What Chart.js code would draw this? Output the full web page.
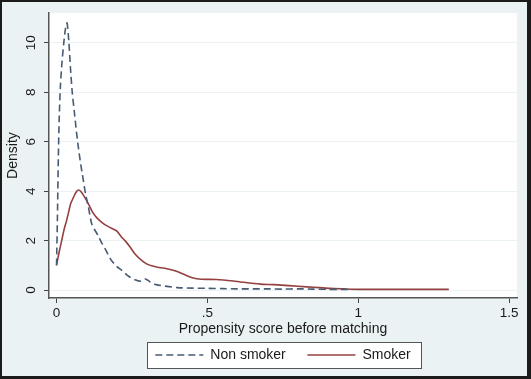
<!DOCTYPE html>
<html>
<head>
<meta charset="utf-8">
<script src="https://cdn.jsdelivr.net/npm/chart.js@4.4.1/dist/chart.umd.min.js"></script>
<style>
  html, body { margin: 0; padding: 0; background: #eaf2f3; }
  #wrap { width: 531px; height: 379px; position: relative; }
</style>
</head>
<body>
<div id="wrap"><canvas id="grafico"></canvas></div>
<script>
// dados (densidade kernel do escore de propensão)
const nonSmokerX = [0, 0.003, 0.006, 0.009, 0.013, 0.018, 0.024, 0.03, 0.035, 0.041, 0.046, 0.052, 0.059, 0.066,
    0.072, 0.08, 0.088, 0.096, 0.105, 0.116, 0.126, 0.138, 0.15, 0.16, 0.17, 0.182, 0.2, 0.216, 0.24, 0.26,
    0.28, 0.295, 0.31, 0.33, 0.36, 0.4, 0.45, 0.5, 0.55, 0.6, 0.65, 0.7, 0.75, 0.8, 0.85, 0.9, 0.95, 0.98];
const nonSmokerY = [1.0, 3.0, 5.4, 7.0, 8.3, 9.2, 10.0, 10.6, 10.8, 10.0, 9.0, 8.0, 7.2, 6.4,
    5.8, 5.1, 4.5, 3.9, 3.4, 2.7, 2.45, 2.2, 1.9, 1.7, 1.45, 1.2, 0.95, 0.8, 0.55, 0.42,
    0.36, 0.45, 0.33, 0.22, 0.16, 0.1, 0.08, 0.07, 0.06, 0.05, 0.05, 0.05, 0.04, 0.05, 0.04, 0.03, 0.03, 0.02];

const smokerX = [0, 0.008, 0.017, 0.025, 0.033, 0.04, 0.047, 0.055, 0.061, 0.067, 0.072, 0.08, 0.092, 0.105,
    0.121, 0.133, 0.144, 0.16, 0.182, 0.2, 0.215, 0.227, 0.245, 0.26, 0.282, 0.3, 0.315, 0.335, 0.355,
    0.38, 0.4, 0.425, 0.45, 0.48, 0.53, 0.586, 0.61, 0.675, 0.72, 0.77, 0.83, 0.87, 0.907, 0.95, 1.0, 1.3];
const smokerY = [1.0, 1.5, 2.0, 2.45, 2.8, 3.15, 3.5, 3.72, 3.88, 4.0, 4.05, 4.0, 3.78, 3.5,
    3.12, 2.93, 2.8, 2.65, 2.5, 2.38, 2.15, 2.0, 1.72, 1.46, 1.2, 1.05, 0.98, 0.92, 0.89,
    0.82, 0.75, 0.62, 0.5, 0.44, 0.43, 0.37, 0.33, 0.24, 0.22, 0.18, 0.13, 0.1, 0.07, 0.05, 0.03, 0.03];

const xTicks = [0, 0.5, 1, 1.5];
const xTickLabels = ['0', '.5', '1', '1.5'];
const yTicks = [0, 2, 4, 6, 8, 10];
const yTickLabels = ['0', '2', '4', '6', '8', '10'];

const seriesLabels = ['Non smoker', 'Smoker'];

const FONTE = '"Liberation Sans", Arial, sans-serif';
const COR_FUNDO = '#eaf2f3';

const toPoints = (xs, ys) => xs.map((x, i) => ({ x, y: ys[i] }));

// retângulo da caixa da legenda a partir das caixas de cada item
function caixaLegenda(chart) {
    const boxes = chart.legend && chart.legend.legendHitBoxes;
    if (!boxes || !boxes.length) return null;
    const first = boxes[0], last = boxes[boxes.length - 1];
    const x0 = Math.round(first.left - 8);
    const x1 = Math.round(last.left + last.width + 10);
    const cy = first.top + first.height / 2;
    return { x: x0, y: Math.round(cy - 13), w: x1 - x0, h: 26 };
}

// fundo azulado, área do gráfico branca, caixa da legenda e moldura
const pluginFundo = {
    id: 'fundo',
    beforeDraw(chart) {
        const { ctx, width, height, chartArea: a } = chart;
        ctx.save();
        ctx.fillStyle = COR_FUNDO;
        ctx.fillRect(0, 0, width, height);
        ctx.fillStyle = '#ffffff';
        ctx.fillRect(a.left, a.top, a.right - a.left, a.bottom - a.top);
        const c = caixaLegenda(chart);
        if (c) ctx.fillRect(c.x, c.y, c.w, c.h);
        ctx.restore();
    },
    afterDraw(chart) {
        const { ctx, width, height } = chart;
        ctx.save();
        const c = caixaLegenda(chart);
        if (c) {
            ctx.strokeStyle = '#555';
            ctx.lineWidth = 1;
            ctx.strokeRect(c.x + 0.5, c.y + 0.5, c.w, c.h);
        }
        ctx.fillStyle = '#1b1b1b';
        ctx.fillRect(0, 0, width, 2);
        ctx.fillRect(0, 0, 2, height);
        ctx.fillRect(width - 4, 0, 4, height);
        ctx.fillRect(0, height - 3, width, 3);
        ctx.restore();
    }
};

const ctx = document.getElementById('grafico');

new Chart(ctx, {
    type: 'line',
    data: {
        datasets: [
            {
                label: seriesLabels[0],
                data: toPoints(nonSmokerX, nonSmokerY),
                borderColor: '#475c74',
                borderWidth: 1.6,
                borderDash: [7, 4],
                pointRadius: 0,
                tension: 0.25,
                fill: false
            },
            {
                label: seriesLabels[1],
                data: toPoints(smokerX, smokerY),
                borderColor: '#94403f',
                borderWidth: 1.6,
                pointRadius: 0,
                tension: 0.25,
                fill: false
            }
        ]
    },
    options: {
        responsive: true,
        maintainAspectRatio: false,
        animation: false,
        layout: { padding: { top: 9, right: 14, left: 0, bottom: 7 } },
        plugins: {
            tooltip: { enabled: false },
            legend: {
                position: 'bottom',
                fullSize: false,
                labels: {
                    usePointStyle: true,
                    pointStyle: 'line',
                    pointStyleWidth: 48,
                    padding: 10,
                    color: '#1a1a1a',
                    font: { family: FONTE, size: 14 },
                    generateLabels(chart) {
                        const itens = Chart.defaults.plugins.legend.labels.generateLabels(chart);
                        itens.forEach((it, i) => {
                            const ds = chart.data.datasets[it.datasetIndex];
                            it.pointStyle = 'line';
                            it.strokeStyle = ds.borderColor;
                            it.lineWidth = ds.borderWidth;
                            it.lineDash = ds.borderDash || [];
                            // espaço extra entre as duas chaves, como no original
                            if (i < itens.length - 1) it.text = it.text + '   ';
                        });
                        return itens;
                    }
                }
            }
        },
        scales: {
            x: {
                type: 'linear',
                min: -0.025,
                max: 1.526,
                afterBuildTicks(scale) { scale.ticks = xTicks.map(v => ({ value: v })); },
                afterFit(scale) { scale.height = 40; },
                ticks: {
                    padding: 2,
                    color: '#1a1a1a',
                    font: { family: FONTE, size: 13.5 },
                    maxRotation: 0,
                    callback: (v) => xTickLabels[xTicks.indexOf(v)]
                },
                grid: {
                    drawOnChartArea: false,
                    tickLength: 5,
                    tickColor: '#444'
                },
                border: { color: '#555', width: 1.5 },
                title: {
                    display: true,
                    text: 'Propensity score before matching',
                    color: '#1a1a1a',
                    font: { family: FONTE, size: 14 },
                    padding: { top: 0, bottom: 0 }
                }
            },
            y: {
                min: -0.32,
                max: 11.2,
                afterBuildTicks(scale) { scale.ticks = yTicks.map(v => ({ value: v })); },
                afterFit(scale) { scale.width = 49; },
                ticks: {
                    minRotation: 90,
                    maxRotation: 90,
                    crossAlign: 'center',
                    padding: 5,
                    color: '#1a1a1a',
                    font: { family: FONTE, size: 13.5 },
                    callback: (v) => yTickLabels[yTicks.indexOf(v)]
                },
                grid: {
                    color: COR_FUNDO,
                    lineWidth: 1,
                    tickLength: 5,
                    tickColor: '#444'
                },
                border: { color: '#555', width: 1.5 },
                title: {
                    display: true,
                    text: 'Density',
                    color: '#1a1a1a',
                    font: { family: FONTE, size: 14 },
                    padding: { top: 5, bottom: 0 }
                }
            }
        }
    },
    plugins: [pluginFundo]
});
</script>
</body>
</html>
